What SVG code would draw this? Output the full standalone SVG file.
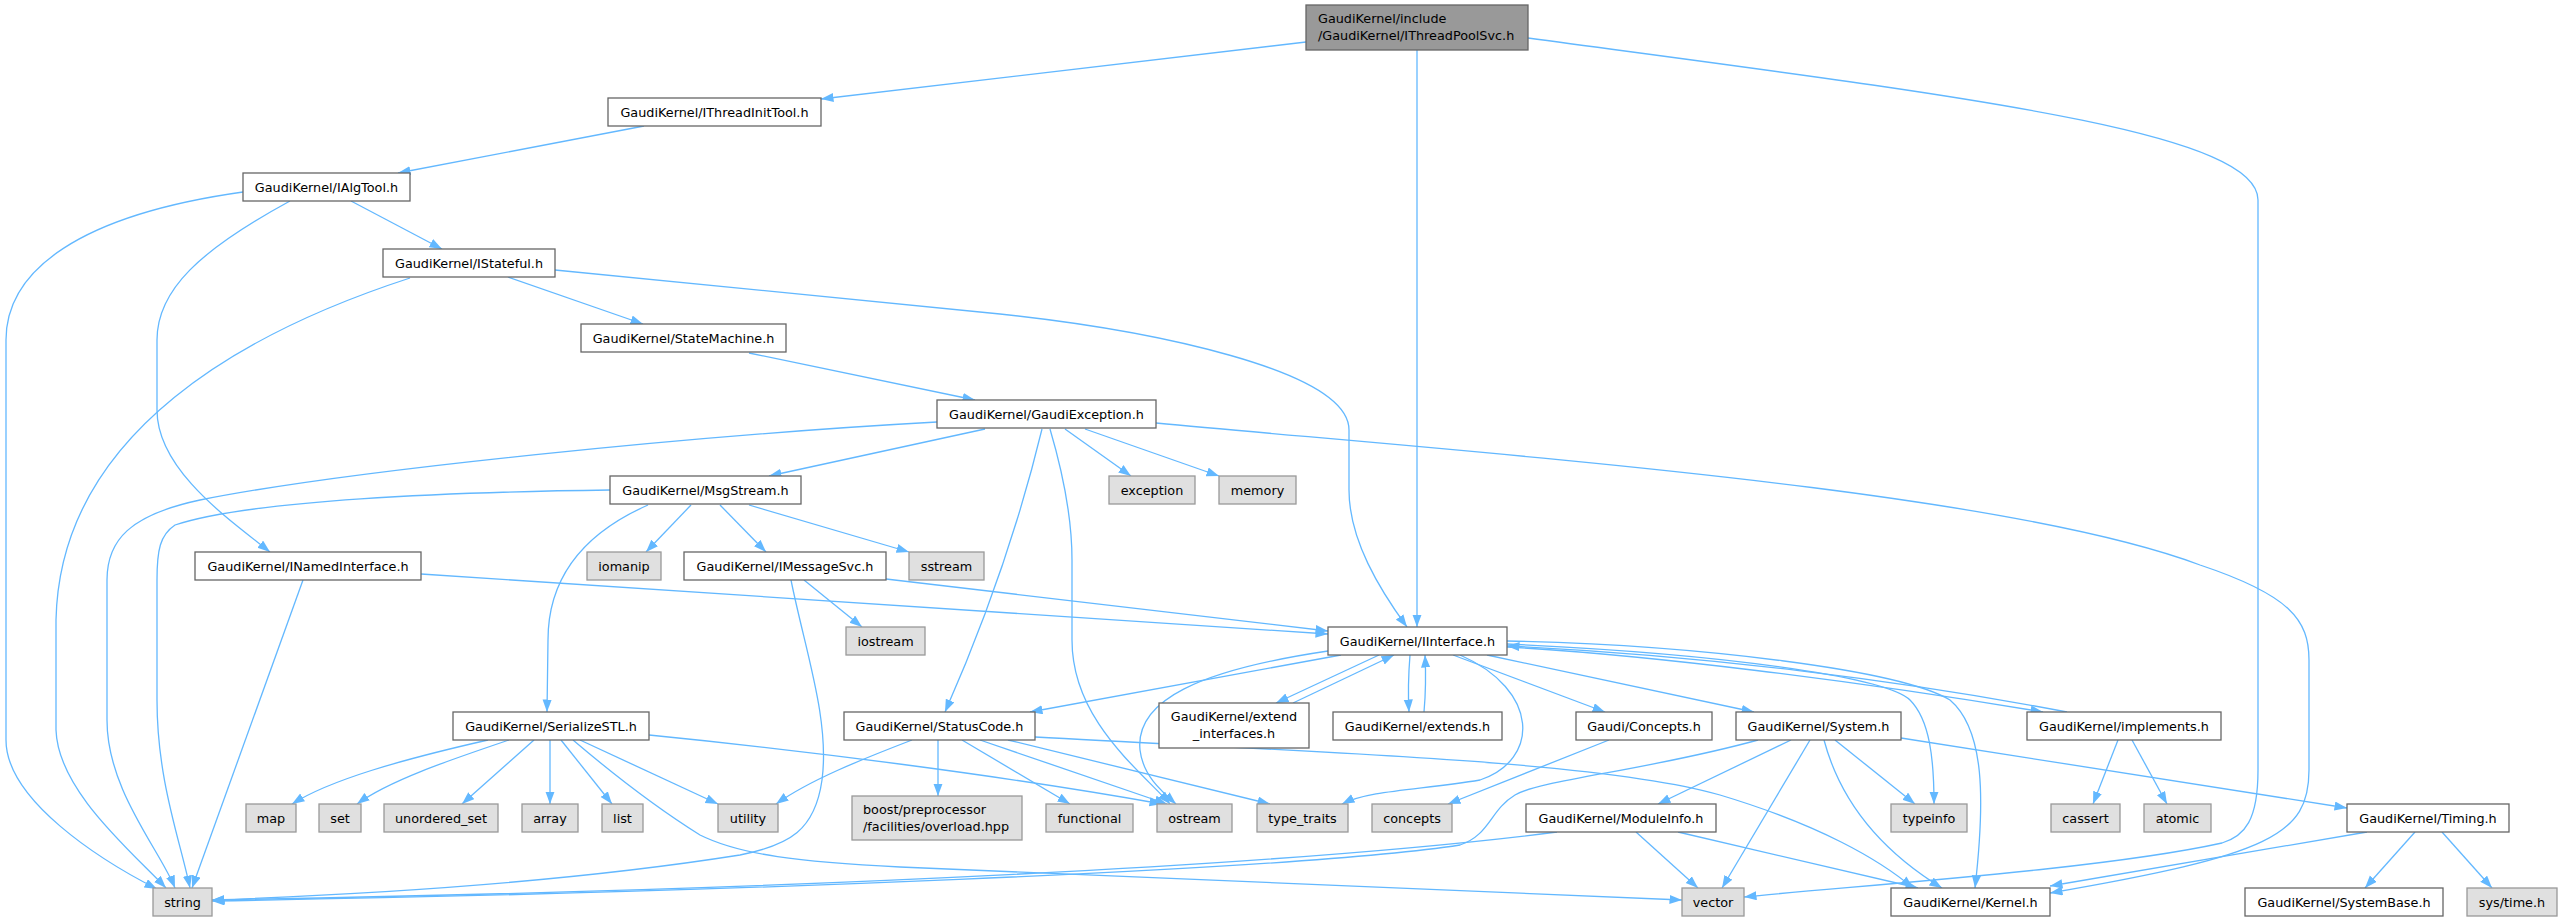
<svg xmlns="http://www.w3.org/2000/svg" width="2562" height="922" viewBox="0 0 2562 922">
<style>
text{font-family:"DejaVu Sans",sans-serif;font-size:12.8px;fill:#000}
.c{text-anchor:middle}
.n rect{fill:#fff;stroke:#666;stroke-width:1.3}
.x rect{fill:#e0e0e0;stroke:#999;stroke-width:1.3}
.r rect{fill:#999;stroke:#666;stroke-width:1.3}
#edges path{fill:none;stroke:#63b8ff;stroke-width:1.3;marker-end:url(#ah)}
</style>
<defs>
<marker id="ah" markerWidth="14" markerHeight="10" refX="12.5" refY="4.6" orient="auto" markerUnits="userSpaceOnUse"><path d="M0,0 L12.5,4.6 L0,9.2 z" fill="#63b8ff"/></marker>
</defs>
<rect width="2562" height="922" fill="#fff"/>
<g id="edges">
<path d="M1306,42 L821,99"/>
<path d="M1417,50 L1417,627"/>
<path d="M1528,38 C1950,95 2258,130 2258,200 L2258,770 C2258,820 2245,836 2222,843 C2100,870 1850,886 1744,897"/>
<path d="M644,126 L398,173"/>
<path d="M243,192 C80,215 6,270 6,340 L6,740 C6,800 100,860 157,889"/>
<path d="M290,201 C200,250 157,290 157,340 L157,410 C157,470 230,520 270,552"/>
<path d="M351,201 L442,249"/>
<path d="M410,278 C250,330 60,430 56,620 L56,730 C58,790 130,850 166,888"/>
<path d="M508,277 L643,324"/>
<path d="M555,270 L1000,314 C1150,330 1349,370 1349,430 L1349,490 C1349,540 1380,590 1407,627"/>
<path d="M749,353 L975,400"/>
<path d="M937,422 C700,435 350,470 200,500 C130,515 107,540 107,580 L107,720 C107,790 160,850 175,888"/>
<path d="M985,429 L769,476"/>
<path d="M1065,429 L1131,476"/>
<path d="M1085,429 L1219,476"/>
<path d="M1042,429 C1020,520 990,610 945,712"/>
<path d="M1050,429 C1065,480 1072,520 1072,560 L1072,640 C1072,720 1140,770 1170,804"/>
<path d="M1156,423 C1500,455 2000,490 2200,565 C2290,595 2309,620 2309,660 L2309,770 C2309,835 2270,855 2050,893"/>
<path d="M610,490 C450,492 250,500 175,525 C160,535 157,550 157,580 L157,700 C157,780 180,840 190,888"/>
<path d="M648,505 C580,535 548,580 548,640 L547,712"/>
<path d="M691,505 L646,552"/>
<path d="M720,505 L766,552"/>
<path d="M749,505 L909,552"/>
<path d="M421,574 L1328,634"/>
<path d="M303,580 L192,888"/>
<path d="M886,579 L1328,631"/>
<path d="M804,580 L862,627"/>
<path d="M791,580 C805,650 830,720 822,780 C815,830 790,845 740,855 C550,885 350,895 212,900"/>
<path d="M1341,655 L1030,712"/>
<path d="M1328,651 C1200,670 1135,700 1140,750 C1143,775 1160,790 1176,804"/>
<path d="M1379,655 L1276,703"/>
<path d="M1293,703 L1394,655"/>
<path d="M1410,655 C1408,680 1408,695 1409,712"/>
<path d="M1424,712 C1426,690 1426,675 1425,655"/>
<path d="M1460,655 C1540,690 1540,760 1480,780 C1420,790 1370,790 1342,804"/>
<path d="M1453,655 L1605,712"/>
<path d="M1487,655 L1754,712"/>
<path d="M1507,647 C1650,655 1850,680 2043,712"/>
<path d="M2067,712 C1900,680 1700,655 1507,646"/>
<path d="M1507,644 C1750,655 1890,680 1910,700 C1930,720 1934,760 1934,804"/>
<path d="M1507,641 C1700,645 1900,670 1950,700 C1985,730 1985,800 1975,888"/>
<path d="M488,740 C400,760 330,780 292,804"/>
<path d="M509,740 C450,760 390,780 357,804"/>
<path d="M534,740 L462,804"/>
<path d="M550,740 L550,804"/>
<path d="M561,740 L612,804"/>
<path d="M580,740 L718,804"/>
<path d="M573,740 C620,780 660,810 700,835 C740,855 800,862 900,867 C1200,880 1500,893 1682,900"/>
<path d="M649,735 C800,750 1000,775 1162,804"/>
<path d="M912,740 C860,760 810,780 776,804"/>
<path d="M938,740 L938,796"/>
<path d="M962,740 L1070,804"/>
<path d="M980,740 L1167,804"/>
<path d="M1008,740 L1270,804"/>
<path d="M1035,737 C1300,752 1600,760 1720,795 C1820,825 1880,860 1913,888"/>
<path d="M1609,740 L1448,804"/>
<path d="M1758,740 C1650,770 1540,780 1515,795 C1490,810 1490,835 1460,845 C1300,870 700,893 212,901"/>
<path d="M1791,740 L1658,804"/>
<path d="M1810,740 L1722,888"/>
<path d="M1824,740 C1840,800 1880,850 1942,888"/>
<path d="M1835,740 L1915,804"/>
<path d="M1901,738 L2347,808"/>
<path d="M2118,740 L2093,804"/>
<path d="M2132,740 L2167,804"/>
<path d="M1557,832 C1300,865 800,890 212,900"/>
<path d="M1636,832 L1698,888"/>
<path d="M1678,832 L1918,888"/>
<path d="M2415,832 L2365,888"/>
<path d="M2442,832 L2492,888"/>
<path d="M2367,832 L2050,886"/>
</g>
<g id="n_root" class="r"><rect x="1306" y="5" width="222" height="45"/><text x="1318" y="23">GaudiKernel/include</text><text x="1318" y="40">/GaudiKernel/IThreadPoolSvc.h</text></g>
<g id="n_IThreadInitTool" class="n"><rect x="608" y="98" width="213" height="28"/><text class="c" x="714.5" y="116.5">GaudiKernel/IThreadInitTool.h</text></g>
<g id="n_IAlgTool" class="n"><rect x="243" y="173" width="167" height="28"/><text class="c" x="326.5" y="191.5">GaudiKernel/IAlgTool.h</text></g>
<g id="n_IStateful" class="n"><rect x="383" y="249" width="172" height="28"/><text class="c" x="469" y="267.5">GaudiKernel/IStateful.h</text></g>
<g id="n_StateMachine" class="n"><rect x="581" y="324" width="205" height="28"/><text class="c" x="683.5" y="342.5">GaudiKernel/StateMachine.h</text></g>
<g id="n_GaudiException" class="n"><rect x="937" y="400" width="219" height="28"/><text class="c" x="1046.5" y="418.5">GaudiKernel/GaudiException.h</text></g>
<g id="n_MsgStream" class="n"><rect x="610" y="476" width="191" height="28"/><text class="c" x="705.5" y="494.5">GaudiKernel/MsgStream.h</text></g>
<g id="n_exception" class="x"><rect x="1109" y="476" width="86" height="28"/><text class="c" x="1152" y="494.5">exception</text></g>
<g id="n_memory" class="x"><rect x="1219" y="476" width="77" height="28"/><text class="c" x="1257.5" y="494.5">memory</text></g>
<g id="n_INamedInterface" class="n"><rect x="195" y="552" width="226" height="28"/><text class="c" x="308" y="570.5">GaudiKernel/INamedInterface.h</text></g>
<g id="n_iomanip" class="x"><rect x="587" y="552" width="74" height="28"/><text class="c" x="624" y="570.5">iomanip</text></g>
<g id="n_IMessageSvc" class="n"><rect x="684" y="552" width="202" height="28"/><text class="c" x="785" y="570.5">GaudiKernel/IMessageSvc.h</text></g>
<g id="n_sstream" class="x"><rect x="909" y="552" width="75" height="28"/><text class="c" x="946.5" y="570.5">sstream</text></g>
<g id="n_IInterface" class="n"><rect x="1328" y="627" width="179" height="28"/><text class="c" x="1417.5" y="645.5">GaudiKernel/IInterface.h</text></g>
<g id="n_iostream" class="x"><rect x="846" y="627" width="79" height="28"/><text class="c" x="885.5" y="645.5">iostream</text></g>
<g id="n_SerializeSTL" class="n"><rect x="453" y="712" width="196" height="28"/><text class="c" x="551" y="730.5">GaudiKernel/SerializeSTL.h</text></g>
<g id="n_StatusCode" class="n"><rect x="844" y="712" width="191" height="28"/><text class="c" x="939.5" y="730.5">GaudiKernel/StatusCode.h</text></g>
<g id="n_extend_interfaces" class="n"><rect x="1159" y="703" width="150" height="45"/><text class="c" x="1234" y="720.5">GaudiKernel/extend</text><text class="c" x="1234" y="737.5">_interfaces.h</text></g>
<g id="n_extends" class="n"><rect x="1333" y="712" width="169" height="28"/><text class="c" x="1417.5" y="730.5">GaudiKernel/extends.h</text></g>
<g id="n_Concepts" class="n"><rect x="1576" y="712" width="136" height="28"/><text class="c" x="1644" y="730.5">Gaudi/Concepts.h</text></g>
<g id="n_System" class="n"><rect x="1736" y="712" width="165" height="28"/><text class="c" x="1818.5" y="730.5">GaudiKernel/System.h</text></g>
<g id="n_implements" class="n"><rect x="2027" y="712" width="194" height="28"/><text class="c" x="2124" y="730.5">GaudiKernel/implements.h</text></g>
<g id="n_map" class="x"><rect x="246" y="804" width="50" height="28"/><text class="c" x="271" y="822.5">map</text></g>
<g id="n_set" class="x"><rect x="319" y="804" width="42" height="28"/><text class="c" x="340" y="822.5">set</text></g>
<g id="n_unordered_set" class="x"><rect x="384" y="804" width="114" height="28"/><text class="c" x="441" y="822.5">unordered_set</text></g>
<g id="n_array" class="x"><rect x="522" y="804" width="56" height="28"/><text class="c" x="550" y="822.5">array</text></g>
<g id="n_list" class="x"><rect x="602" y="804" width="41" height="28"/><text class="c" x="622.5" y="822.5">list</text></g>
<g id="n_utility" class="x"><rect x="718" y="804" width="60" height="28"/><text class="c" x="748" y="822.5">utility</text></g>
<g id="n_boost" class="x"><rect x="852" y="796" width="170" height="44"/><text x="863" y="813.5">boost/preprocessor</text><text x="863" y="831">/facilities/overload.hpp</text></g>
<g id="n_functional" class="x"><rect x="1046" y="804" width="87" height="28"/><text class="c" x="1089.5" y="822.5">functional</text></g>
<g id="n_ostream" class="x"><rect x="1157" y="804" width="75" height="28"/><text class="c" x="1194.5" y="822.5">ostream</text></g>
<g id="n_type_traits" class="x"><rect x="1257" y="804" width="91" height="28"/><text class="c" x="1302.5" y="822.5">type_traits</text></g>
<g id="n_concepts" class="x"><rect x="1372" y="804" width="80" height="28"/><text class="c" x="1412" y="822.5">concepts</text></g>
<g id="n_ModuleInfo" class="n"><rect x="1526" y="804" width="190" height="28"/><text class="c" x="1621" y="822.5">GaudiKernel/ModuleInfo.h</text></g>
<g id="n_typeinfo" class="x"><rect x="1891" y="804" width="76" height="28"/><text class="c" x="1929" y="822.5">typeinfo</text></g>
<g id="n_cassert" class="x"><rect x="2051" y="804" width="69" height="28"/><text class="c" x="2085.5" y="822.5">cassert</text></g>
<g id="n_atomic" class="x"><rect x="2144" y="804" width="67" height="28"/><text class="c" x="2177.5" y="822.5">atomic</text></g>
<g id="n_Timing" class="n"><rect x="2347" y="804" width="162" height="28"/><text class="c" x="2428" y="822.5">GaudiKernel/Timing.h</text></g>
<g id="n_string" class="x"><rect x="153" y="888" width="59" height="28"/><text class="c" x="182.5" y="906.5">string</text></g>
<g id="n_vector" class="x"><rect x="1682" y="888" width="62" height="28"/><text class="c" x="1713" y="906.5">vector</text></g>
<g id="n_Kernel" class="n"><rect x="1891" y="888" width="159" height="28"/><text class="c" x="1970.5" y="906.5">GaudiKernel/Kernel.h</text></g>
<g id="n_SystemBase" class="n"><rect x="2245" y="888" width="198" height="28"/><text class="c" x="2344" y="906.5">GaudiKernel/SystemBase.h</text></g>
<g id="n_systime" class="x"><rect x="2467" y="888" width="90" height="28"/><text class="c" x="2512" y="906.5">sys/time.h</text></g>
</svg>
